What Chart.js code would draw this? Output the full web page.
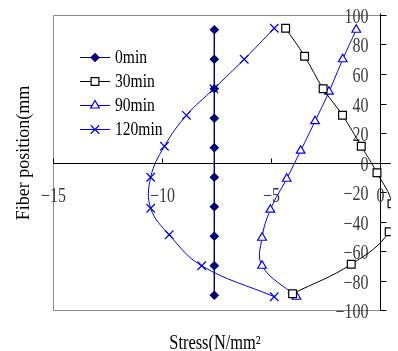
<!DOCTYPE html>
<html>
<head>
<meta charset="utf-8">
<script src="https://cdn.jsdelivr.net/npm/chart.js@4/dist/chart.umd.min.js"></script>
<style>
  html, body { margin: 0; padding: 0; background: #fff; overflow: hidden; }
  #wrap { width: 398px; height: 351px; position: relative; }
</style>
</head>
<body>
<div id="wrap"><canvas id="c" width="398" height="351"></canvas></div>
<script>
// Stress profile across the fiber section at several heating times
const seriesNames = ['0min', '30min', '90min', '120min'];

const fiberPos0 = [90, 70, 50, 30, 10, -10, -30, -50, -70, -90];
const stress0 = [-7.6, -7.6, -7.6, -7.6, -7.6, -7.6, -7.6, -7.6, -7.6, -7.6];

const fiberPos30 = [91, 72, 50, 32, 11, -7, -28, -47, -69, -89];
const stress30 = [-4.33, -3.46, -2.61, -1.72, -0.86, -0.14, 0.55, 0.42, -1.32, -4.01];

const fiberPos90 = [90, 70, 48, 28, 8, -11, -32, -51, -70, -91];
const stress90 = [-1.09, -1.71, -2.34, -2.98, -3.64, -4.28, -5.03, -5.41, -5.41, -3.83];

const fiberPos120 = [91, 70, 50, 32, 11, -10, -31, -49, -70, -91];
const stress120 = [-4.85, -6.23, -7.62, -8.88, -9.89, -10.52, -10.52, -9.67, -8.18, -4.85];

const xTickValues = [-15, -10, -5, 0];
const yTickValues = [100, 80, 60, 40, 20, 0, -20, -40, -60, -80, -100];

const xTitle = 'Stress(N/mm\u00B2';
const yTitle = 'Fiber position(mm';

function pairs(xs, ys) {
  return xs.map((x, i) => ({ x: x, y: ys[i] }));
}

const styles = [
  { color: '#000080', pointStyle: 'rectRot', radius: 4, fill: '#000080', tension: 0 },
  { color: '#000000', pointStyle: 'rect', radius: 5.5, fill: '#ffffff', tension: 0.4 },
  { color: '#0000ff', pointStyle: 'triangle', radius: 5, fill: '#ffffff', tension: 0.4 },
  { color: '#0000ff', pointStyle: 'crossRot', radius: 6, fill: '#0000ff', tension: 0.4 }
];

const seriesData = [
  pairs(stress0, fiberPos0),
  pairs(stress30, fiberPos30),
  pairs(stress90, fiberPos90),
  pairs(stress120, fiberPos120)
];

const datasets = seriesNames.map((name, i) => ({
  label: name,
  data: seriesData[i],
  showLine: true,
  borderColor: styles[i].color,
  borderWidth: 1,
  tension: styles[i].tension,
  pointStyle: styles[i].pointStyle,
  pointRadius: styles[i].radius,
  pointBorderWidth: 1.2,
  pointBackgroundColor: styles[i].fill,
  pointBorderColor: styles[i].color
}));

const SERIF = '"Liberation Serif", "Times New Roman", serif';

// narrow serif text: draw with a horizontal squeeze
function narrowText(ctx, text, x, y, align, sx) {
  ctx.save();
  ctx.translate(x, y);
  ctx.scale(sx, 1);
  ctx.textAlign = align;
  ctx.fillText(text, 0, 0);
  ctx.restore();
}

function marker(ctx, style, x, y) {
  const r = style.radius;
  ctx.save();
  ctx.strokeStyle = style.color;
  ctx.fillStyle = style.fill;
  ctx.lineWidth = 1.2;
  ctx.beginPath();
  if (style.pointStyle === 'rectRot') {
    ctx.moveTo(x, y - r); ctx.lineTo(x + r, y); ctx.lineTo(x, y + r); ctx.lineTo(x - r, y); ctx.closePath();
    ctx.fill(); ctx.stroke();
  } else if (style.pointStyle === 'rect') {
    const s = r * Math.SQRT1_2;
    ctx.rect(x - s, y - s, 2 * s, 2 * s);
    ctx.fill(); ctx.stroke();
  } else if (style.pointStyle === 'triangle') {
    ctx.moveTo(x, y - r);
    ctx.lineTo(x + r * Math.sin(Math.PI * 2 / 3), y - r * Math.cos(Math.PI * 2 / 3));
    ctx.lineTo(x - r * Math.sin(Math.PI * 2 / 3), y - r * Math.cos(Math.PI * 2 / 3));
    ctx.closePath();
    ctx.fill(); ctx.stroke();
  } else {
    const s = r * Math.SQRT1_2;
    ctx.moveTo(x - s, y - s); ctx.lineTo(x + s, y + s);
    ctx.moveTo(x + s, y - s); ctx.lineTo(x - s, y + s);
    ctx.stroke();
  }
  ctx.restore();
}

// Frame, axes crossing at the origin, ticks, labels and titles
const axesPlugin = {
  id: 'axesAtOrigin',
  beforeDraw(chart) {
    const ctx = chart.ctx;
    ctx.save();
    ctx.fillStyle = '#ffffff';
    ctx.fillRect(0, 0, chart.width, chart.height);
    ctx.restore();
  },
  beforeDatasetsDraw(chart) {
    const { ctx, chartArea: a, scales: { x, y } } = chart;
    const x0 = Math.round(x.getPixelForValue(0)) + 0.5;
    const y0 = Math.round(y.getPixelForValue(0)) + 0.5;
    const top = Math.round(y.getPixelForValue(100)) + 0.5;
    const bottom = Math.round(y.getPixelForValue(-100)) + 0.5;
    const left = Math.round(x.getPixelForValue(-15)) + 0.5;
    ctx.save();
    // grey frame
    ctx.strokeStyle = '#8c8c8c';
    ctx.lineWidth = 1;
    ctx.beginPath();
    ctx.moveTo(x0, top); ctx.lineTo(left, top); ctx.lineTo(left, bottom); ctx.lineTo(x0, bottom);
    ctx.stroke();
    // axis lines
    ctx.strokeStyle = '#000000';
    ctx.beginPath();
    ctx.moveTo(left, y0); ctx.lineTo(a.right, y0);
    ctx.moveTo(x0, top - 2); ctx.lineTo(x0, bottom);
    ctx.stroke();
    // y ticks (outward, to the right) and labels
    ctx.font = '20px ' + SERIF;
    ctx.fillStyle = '#3a3a3a';
    ctx.textBaseline = 'middle';
    yTickValues.forEach(v => {
      const py = Math.round(y.getPixelForValue(v)) + 0.5;
      ctx.beginPath(); ctx.moveTo(x0, py); ctx.lineTo(x0 + 6, py); ctx.stroke();
      narrowText(ctx, String(v).replace('-', '\u2212'), x0 - 12, py + 2, 'right', 0.8);
    });
    // x ticks (upward) and labels
    xTickValues.forEach(v => {
      const px = Math.round(x.getPixelForValue(v)) + 0.5;
      ctx.beginPath(); ctx.moveTo(px, y0); ctx.lineTo(px, y0 - 5); ctx.stroke();
      narrowText(ctx, String(v).replace('-', '\u2212'), px, y0 + 33, 'center', 0.8);
    });
    // titles
    ctx.fillStyle = '#000000';
    ctx.font = '20px ' + SERIF;
    narrowText(ctx, xTitle, 215, 344, 'center', 0.82);
    ctx.save();
    ctx.translate(24, 153);
    ctx.rotate(-Math.PI / 2);
    ctx.font = '18px ' + SERIF;
    ctx.textAlign = 'center';
    ctx.fillText(yTitle, 0, 0);
    ctx.restore();
    ctx.restore();
  },
  afterDatasetsDraw(chart) {
    const ctx = chart.ctx;
    ctx.save();
    ctx.font = '19px ' + SERIF;
    ctx.fillStyle = '#000000';
    ctx.textBaseline = 'middle';
    seriesNames.forEach((name, i) => {
      const ry = 57 + i * 24;
      ctx.strokeStyle = styles[i].color;
      ctx.lineWidth = 1;
      ctx.beginPath(); ctx.moveTo(80, ry + 0.5); ctx.lineTo(110, ry + 0.5); ctx.stroke();
      marker(ctx, styles[i], 95, ry + 0.5);
      narrowText(ctx, name, 115, ry + 1, 'left', 0.82);
    });
    ctx.restore();
  }
};

new Chart(document.getElementById('c'), {
  type: 'scatter',
  data: { datasets: datasets },
  options: {
    responsive: false,
    animation: false,
    devicePixelRatio: 1,
    layout: { padding: { left: 53, top: 15, right: 0, bottom: 41 } },
    scales: {
      x: { type: 'linear', min: -15, max: 0.494, display: false },
      y: { type: 'linear', min: -100, max: 100, display: false }
    },
    plugins: { legend: { display: false }, tooltip: { enabled: false } }
  },
  plugins: [axesPlugin]
});
</script>
</body>
</html>
